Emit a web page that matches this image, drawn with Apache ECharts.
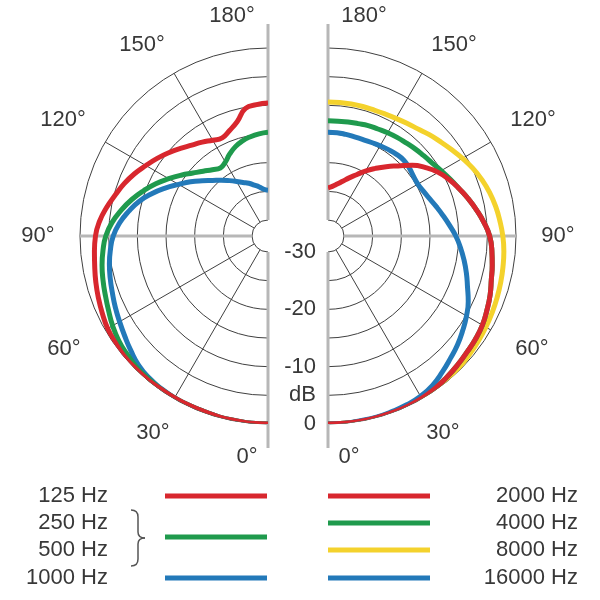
<!DOCTYPE html>
<html><head><meta charset="utf-8">
<script src="https://cdn.jsdelivr.net/npm/echarts@6/dist/echarts.min.js"></script>
<style>html,body{margin:0;padding:0;background:#fff}#c{width:600px;height:600px}</style>
</head><body><div id="c"></div>
<script>
// ---------------- data ----------------
const angleDeg = [0,5,10,15,20,25,30,35,40,45,50,55,60,65,70,75,80,85,90,95,100,105,110,115,120,125,130,135,140,145,150,155,160,165,170,175,180];
const angleTicks = [0,30,60,90,120,150,180];
const angleTickLabels = ['0°','30°','60°','90°','120°','150°','180°'];
const dbTicks = [-30,-25,-20,-15,-10,-5,0];
const dbTickLabels = ['-30','','-20','','-10','dB','0'];

// left half (low frequencies), dB per angle
const low125 = [0,0,-0.1,-0.1,-0.2,-0.2,-0.2,-0.2,-0.1,-0.1,-0.1,-0.3,-0.5,-0.9,-1.3,-1.7,-2.1,-2.4,-2.7,-3.3,-4.2,-5.2,-6.1,-7.1,-8.2,-9.2,-10.2,-11.2,-12.1,-12.8,-13.5,-13.9,-13.2,-12.1,-10.2,-9.8,-9.6];
const low250_500 = [0,0,-0.1,-0.1,-0.2,-0.2,-0.2,-0.2,-0.3,-0.4,-0.7,-1.0,-1.5,-2.1,-2.6,-3.0,-3.4,-3.9,-4.5,-5.5,-6.8,-8.2,-9.7,-11.2,-12.8,-14.3,-15.7,-16.8,-17.7,-18.3,-17.9,-17.0,-16.2,-15.6,-15.2,-14.9,-14.7];
const low1000 = [0,0,-0.1,-0.1,-0.2,-0.2,-0.2,-0.3,-0.5,-0.9,-1.6,-2.3,-2.9,-3.4,-3.9,-4.3,-4.7,-5.2,-5.8,-6.8,-8.1,-9.5,-11.2,-13.0,-14.8,-16.3,-17.8,-19.1,-20.1,-21.0,-21.8,-22.5,-23.0,-23.6,-24.1,-24.6,-24.8];
// right half (high frequencies)
const high2000 = [0,0,0,0,0,0,-0.1,-0.3,-0.6,-0.9,-1.2,-1.4,-1.7,-2.2,-2.7,-3.3,-3.7,-4.1,-4.6,-5.5,-6.5,-7.5,-8.5,-9.5,-10.6,-12.0,-13.6,-15.5,-17.0,-18.4,-19.7,-21.0,-22.0,-22.9,-23.6,-24.1,-24.4];
const high4000 = [0,0,0,0,0,0,-0.1,-0.3,-0.6,-0.9,-1.2,-1.4,-1.7,-2.2,-2.7,-3.3,-3.7,-4.1,-4.6,-5.5,-6.5,-7.5,-8.5,-9.3,-10.0,-10.6,-11.0,-11.3,-11.6,-11.8,-12.0,-12.2,-12.3,-12.5,-12.6,-12.7,-12.7];
const high8000 = [0,0,0,0,0,0,0,-0.1,-0.2,-0.4,-0.6,-0.8,-1.0,-1.2,-1.4,-1.6,-1.8,-2.0,-2.3,-2.7,-3.1,-3.6,-4.2,-4.9,-5.7,-6.5,-7.2,-7.8,-8.4,-8.8,-9.1,-9.3,-9.4,-9.4,-9.4,-9.4,-9.4];
const high16000 = [0,0,-0.1,-0.1,-0.2,-0.3,-0.5,-1.0,-1.8,-2.6,-3.3,-4.1,-4.9,-5.8,-6.9,-7.8,-8.7,-9.6,-10.5,-11.5,-12.4,-13.2,-13.9,-14.4,-14.7,-14.6,-14.3,-14.1,-14.2,-14.4,-14.6,-14.8,-14.9,-14.9,-14.8,-14.7,-14.7];

const legendLeftLabels = ['125 Hz','250 Hz','500 Hz','1000 Hz'];
const legendRightLabels = ['2000 Hz','4000 Hz','8000 Hz','16000 Hz'];

// ---------------- style / layout ----------------
const FONT = '"Liberation Sans", Arial, Helvetica, sans-serif';
const FS = 22;
const TXT = '#383838';
const GRID = '#404040';
const AXG = '#b7b7b7';
const RED = '#d8272e', GREEN = '#1f9a4d', BLUE = '#2379b9', YELLOW = '#f4d22c';
const CXL = 268, CXR = 328, CY = 236, R_IN = 16, R_OUT = 188, AX_EXT = 212;
const LABEL_MARGIN = -8;
// desired label centres relative to the left polar centre
const labelCentresLeft = [[-21,221],[-115,197],[-204,113],[-230,3],[-205,-116],[-126,-191],[-36,-220]];

function buildRich(side) {
  const A = R_OUT + LABEL_MARGIN;
  const rich = {};
  angleTicks.forEach((t, i) => {
    const th = t * Math.PI / 180;
    const ax = side * Math.sin(th) * A, ay = Math.cos(th) * A;
    const dx = side < 0 ? labelCentresLeft[i][0] : -labelCentresLeft[i][0];
    const dy = labelCentresLeft[i][1];
    const s = {fontSize: FS, fontFamily: FONT, color: TXT, align: 'center', verticalAlign: 'middle'};
    const hCenter = Math.abs(ax) / R_OUT < 0.3;
    const vMiddle = Math.abs(ay) / R_OUT < 0.3;
    if (hCenter) {
      const sh = dx - ax;
      s.width = 60;
      s.padding = sh < 0 ? [0, -2 * sh, 0, 0] : [0, 0, 0, 2 * sh];
    } else {
      s.width = Math.abs(2 * (dx - ax));
    }
    s.lineHeight = vMiddle ? 26 : Math.abs(2 * (dy - ay));
    rich['t' + t] = s;
  });
  return rich;
}
const angleFormatter = v => '{t' + v + '|' + angleTickLabels[angleTicks.indexOf(v)] + '}';

function angleAxis(pi, side) {
  return {
    polarIndex: pi, type: 'value', min: 0, max: 180, interval: 30,
    startAngle: 270, endAngle: side < 0 ? 90 : 450, clockwise: side < 0,
    axisLine: {show: false}, axisTick: {show: false},
    splitLine: {show: true, lineStyle: {color: GRID, width: 1}},
    axisLabel: {show: true, margin: LABEL_MARGIN, formatter: angleFormatter, rich: buildRich(side)}
  };
}
function radiusAxis(pi, showLabels) {
  return {
    polarIndex: pi, type: 'value', min: -30, max: 0, interval: 5,
    axisLine: {show: false}, axisTick: {show: false},
    splitLine: {show: true, lineStyle: {color: GRID, width: 1}},
    axisLabel: {show: showLabels, margin: 48, align: 'right', fontSize: FS, fontFamily: FONT, color: TXT,
      formatter: v => dbTickLabels[dbTicks.indexOf(v)]}
  };
}
function curve(name, vals, color, pi, z) {
  return {
    type: 'line', name: name, coordinateSystem: 'polar', polarIndex: pi,
    data: angleDeg.map((a, i) => [vals[i], a]),
    smooth: true, showSymbol: false, symbol: 'none', clip: false, z: z,
    lineStyle: {color: color, width: 5, cap: 'butt'}, itemStyle: {color: color},
    animation: false
  };
}

// graphic: axis lines, legend
const graphics = [];
[CXL, CXR].forEach((cx, k) => {
  const side = k === 0 ? -1 : 1;
  graphics.push({type: 'line', z: 1, shape: {x1: cx, y1: CY - AX_EXT, x2: cx, y2: CY - R_IN}, style: {stroke: AXG, lineWidth: 3}});
  graphics.push({type: 'line', z: 1, shape: {x1: cx, y1: CY + R_IN, x2: cx, y2: CY + AX_EXT}, style: {stroke: AXG, lineWidth: 3}});
  graphics.push({type: 'line', z: 1, shape: {x1: cx + side * R_IN, y1: CY, x2: cx + side * R_OUT, y2: CY}, style: {stroke: AXG, lineWidth: 3}});
});
const legTextY = [496, 523, 550, 578];
const legLeftLineY = [496, 537, 578];
const legLeftColors = [RED, GREEN, BLUE];
const legRightColors = [RED, GREEN, YELLOW, BLUE];
legendLeftLabels.forEach((t, i) => graphics.push({type: 'text', x: 108, y: legTextY[i],
  style: {text: t, fontSize: FS, fontFamily: FONT, fill: TXT, align: 'right', verticalAlign: 'middle'}}));
legendRightLabels.forEach((t, i) => graphics.push({type: 'text', x: 578, y: legTextY[i],
  style: {text: t, fontSize: FS, fontFamily: FONT, fill: TXT, align: 'right', verticalAlign: 'middle'}}));
legLeftLineY.forEach((y, i) => graphics.push({type: 'line', shape: {x1: 165, y1: y, x2: 267, y2: y}, style: {stroke: legLeftColors[i], lineWidth: 5}}));
legTextY.forEach((y, i) => graphics.push({type: 'line', shape: {x1: 328, y1: y, x2: 430, y2: y}, style: {stroke: legRightColors[i], lineWidth: 5}}));
// brace
const BS = {stroke: '#555', lineWidth: 1.5, fill: null};
graphics.push({type: 'bezierCurve', shape: {x1: 131, y1: 510, cpx1: 136, cpy1: 510, cpx2: 138, cpy2: 512, x2: 138, y2: 517}, style: BS});
graphics.push({type: 'line', shape: {x1: 138, y1: 517, x2: 138, y2: 532}, style: BS});
graphics.push({type: 'bezierCurve', shape: {x1: 138, y1: 532, cpx1: 138, cpy1: 536, cpx2: 140, cpy2: 538, x2: 145, y2: 538}, style: BS});
graphics.push({type: 'bezierCurve', shape: {x1: 145, y1: 538, cpx1: 140, cpy1: 538, cpx2: 138, cpy2: 540, x2: 138, y2: 544}, style: BS});
graphics.push({type: 'line', shape: {x1: 138, y1: 544, x2: 138, y2: 559}, style: BS});
graphics.push({type: 'bezierCurve', shape: {x1: 138, y1: 559, cpx1: 138, cpy1: 564, cpx2: 136, cpy2: 566, x2: 131, y2: 566}, style: BS});

const chart = echarts.init(document.getElementById('c'), null, {renderer: 'canvas'});
chart.setOption({
  animation: false,
  backgroundColor: '#fff',
  polar: [{center: [CXL, CY], radius: [R_IN, R_OUT]}, {center: [CXR, CY], radius: [R_IN, R_OUT]}],
  angleAxis: [angleAxis(0, -1), angleAxis(1, 1)],
  radiusAxis: [radiusAxis(0, true), radiusAxis(1, false)],
  series: [
    curve('1000 Hz', low1000, BLUE, 0, 2),
    curve('250 Hz / 500 Hz', low250_500, GREEN, 0, 3),
    curve('125 Hz', low125, RED, 0, 4),
    curve('8000 Hz', high8000, YELLOW, 1, 2),
    curve('4000 Hz', high4000, GREEN, 1, 3),
    curve('16000 Hz', high16000, BLUE, 1, 4),
    curve('2000 Hz', high2000, RED, 1, 5)
  ],
  graphic: graphics
});
</script></body></html>
